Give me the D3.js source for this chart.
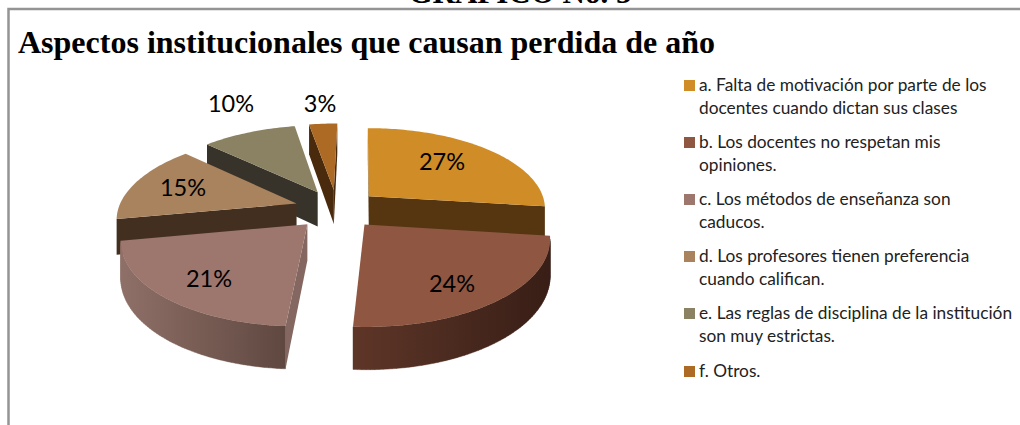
<!DOCTYPE html>
<html><head><meta charset="utf-8">
<script src="https://cdn.jsdelivr.net/npm/d3@7"></script>
<style>html,body{margin:0;background:#fff}svg{display:block}</style></head>
<body><svg id="c" width="1020" height="425"></svg>
<script>
const categories=["a","b","c","d","e","f"];
const values=[27,24,21,15,10,3];
const labels=["27%","24%","21%","15%","10%","3%"];
const legendLines=[
["a. Falta de motivación por parte de los","docentes cuando dictan sus clases"],
["b. Los docentes no respetan mis","opiniones."],
["c. Los métodos de enseñanza son","caducos."],
["d. Los profesores tienen preferencia","cuando califican."],
["e. Las reglas de disciplina de la institución","son muy estrictas."],
["f. Otros."]];
const topColors=["#D08C27","#8F5742","#9D766E","#A9835D","#8B8163","#AC6A25"];
const wallLeft=["#553610","#5E3628","#8F7068","#432F20","#38332A","#4A2A0C"];
const wallRight=["#553610","#381E16","#5F4840","#432F20","#38332A","#4A2A0C"];
const cutColors=["#553610","#3A2018","#846760","#432F20","#38332A","#4A2A0C"];
const labelPos=[[442,170],[452,292],[209,287],[183,196],[231,112],[320,112]];
const title="Aspectos institucionales que causan perdida de año";
const chartTitle="GRAFICO No. 5";

const svg=d3.select("#c");
const defs=svg.append("defs");
const cx=337,cy=209,D=6.68,F=1190,KF=547,HF=235,EX=0.24,SKEW=3;
const proj=(x,z,h=0)=>[cx+F*x/(D+z)+SKEW*z,cy-KF*z/(D+z)+h*HF/(D+z)];
const line=d3.line();
const arcs=d3.pie().sort(null).startAngle(0).endAngle(2*Math.PI)(values);
const area=p=>d3.polygonArea(p);

svg.append("text").attr("x",520).attr("y",3).attr("text-anchor","middle")
 .attr("font-family","Liberation Serif").attr("font-weight","bold").attr("font-size",31).text(chartTitle);
svg.append("path").attr("d","M8.5,425V9H1020").attr("fill","none").attr("stroke","#949494").attr("stroke-width",2.5);
svg.append("text").attr("x",18).attr("y",53).attr("font-family","Liberation Serif").attr("font-weight","bold").attr("font-size",32).text(title);

const shapes=arcs.map((a,i)=>{
 const mid=(a.startAngle+a.endAngle)/2, ax=EX*Math.sin(mid), az=EX*Math.cos(mid);
 const n=Math.max(6,Math.round((a.endAngle-a.startAngle)/0.02));
 const angs=d3.range(n+1).map(d3.scaleLinear().domain([0,n]).range([a.startAngle,a.endAngle]));
 const disc=angs.map(t=>[ax+Math.sin(t),az+Math.cos(t)]);
 return {i,az,ax,disc,apex:[ax,az]};
});
shapes.slice().sort((p,q)=>q.az-p.az).forEach(s=>{
 const g=svg.append("g"), i=s.i;
 const wallPoly=(p,q)=>[proj(p[0],p[1]),proj(q[0],q[1]),proj(q[0],q[1],1),proj(p[0],p[1],1)];
 const face=(p,q,fill)=>{
  const poly=wallPoly(p,q);
  if(area(poly)>0) g.append("path").attr("d",line(poly)+"Z").attr("fill",fill);
 };
 face(s.apex,s.disc[0],cutColors[i]);
 face(s.disc[s.disc.length-1],s.apex,cutColors[i]);
 const quads=d3.pairs(s.disc).map(([p,q])=>wallPoly(p,q)).filter(q=>area(q)>0);
 if(quads.length){
  const xs=quads.flat().map(p=>p[0]);
  const id="wall"+i;
  const grad=defs.append("linearGradient").attr("id",id).attr("gradientUnits","userSpaceOnUse")
   .attr("x1",d3.min(xs)).attr("x2",d3.max(xs)).attr("y1",0).attr("y2",0);
  grad.append("stop").attr("offset",0).attr("stop-color",wallLeft[i]);
  grad.append("stop").attr("offset",1).attr("stop-color",wallRight[i]);
  g.append("path").attr("d",quads.map(q=>line(q)+"Z").join("")).attr("fill",`url(#${id})`).attr("stroke",`url(#${id})`).attr("stroke-width",.4);
 }
 const top=[s.apex,...s.disc].map(p=>proj(p[0],p[1]));
 g.append("path").attr("d",line(top)+"Z").attr("fill",topColors[i]);
});
labels.forEach((t,i)=>svg.append("text").attr("x",labelPos[i][0]).attr("y",labelPos[i][1])
 .attr("text-anchor","middle").attr("font-family","Lato").attr("font-size",23.5).attr("fill","#000").text(t));

const legendTop=[91,148,205,262,319,377];
legendLines.forEach((ls,i)=>{
 svg.append("rect").attr("x",684).attr("y",legendTop[i]-11).attr("width",11).attr("height",11).attr("fill",topColors[i]);
 ls.forEach((l,j)=>svg.append("text").attr("x",699).attr("y",legendTop[i]+j*23).attr("font-family","Lato").attr("font-size",17.3).attr("fill","#222").text(l));
});
</script></body></html>
